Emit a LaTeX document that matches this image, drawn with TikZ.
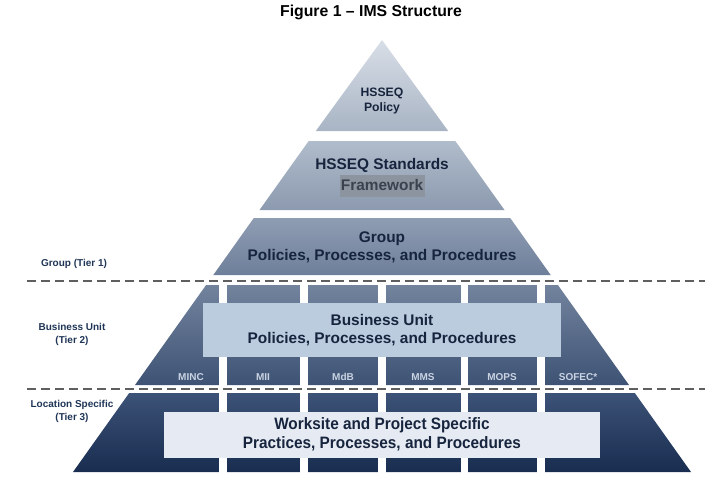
\documentclass[tikz,border=0pt]{standalone}
\usepackage{fontspec}
\setmainfont{Liberation Sans}
\definecolor{navy}{HTML}{17243D}
\definecolor{lbl}{HTML}{1F3556}
\definecolor{dashc}{HTML}{5F5F5F}
\definecolor{colc}{HTML}{C9D3E2}
\definecolor{bubox}{HTML}{BBCCDF}
\definecolor{wsbox}{HTML}{E6EBF3}
\definecolor{fwbox}{HTML}{8C959F}
\definecolor{fwtext}{HTML}{39424E}
\tikzset{
  ptext/.style={font=\bfseries\fontsize{15.4}{18.5}\selectfont, text=navy, align=center, inner sep=0pt},
  sidelbl/.style={font=\bfseries\fontsize{10}{13}\selectfont, text=lbl, align=center, inner sep=0pt},
  collbl/.style={font=\bfseries\fontsize{10}{12}\selectfont, text=colc, inner sep=0pt},
  tierline/.style={draw=dashc, line width=1.6pt, dash pattern=on 9pt off 5pt},
  gapbar/.style={fill=white, draw=none},
}
\begin{document}
\begin{tikzpicture}[x=1pt, y=-1pt]
\useasboundingbox (0,0) rectangle (720,480);
% title
\node[font=\bfseries\fontsize{15.8}{18}\selectfont, inner sep=0pt] (title) at (371,12) {Figure 1 – IMS Structure};
% sections
\shade[top color={rgb,255:red,216;green,222;blue,231}, bottom color={rgb,255:red,168;green,180;blue,196}]
  (382,40) -- (448.2,131) -- (315.8,131) -- cycle;
\shade[top color={rgb,255:red,176;green,188;blue,203}, bottom color={rgb,255:red,140;green,154;blue,175}]
  (308.7,141) -- (455.3,141) -- (504.5,210) -- (259.5,210) -- cycle;
\shade[top color={rgb,255:red,143;green,157;blue,179}, bottom color={rgb,255:red,110;green,127;blue,154}]
  (253.8,218) -- (510.2,218) -- (550.7,275) -- (213.3,275) -- cycle;
\shade[top color={rgb,255:red,114;green,131;blue,157}, bottom color={rgb,255:red,62;green,83;blue,117}]
  (206.1,285) -- (557.9,285) -- (629,385) -- (135,385) -- cycle;
\shade[top color={rgb,255:red,60;green,82;blue,118}, bottom color={rgb,255:red,24;green,45;blue,80}]
  (129.2,393) -- (634.8,393) -- (691,472) -- (73,472) -- cycle;
% column gaps
\foreach \a/\b in {219/227, 300/308, 378/386, 461/468, 537/545} {
  \fill[gapbar] (\a,284) rectangle (\b,386);
  \fill[gapbar] (\a,392) rectangle (\b,473);
}
% boxes
\fill[bubox] (203,303) rectangle (561,357);
\fill[wsbox] (164,412) rectangle (600,458);
\fill[fwbox] (340,175) rectangle (425,197);
% texts
\node[ptext, font=\bfseries\fontsize{12.2}{15}\selectfont] (policy) at (382,101) {HSSEQ\\Policy};
\node[ptext] (std) at (382,165) {HSSEQ Standards};
\node[ptext, text=fwtext] (fw) at (382,185) {Framework};
\node[ptext] (group) at (382,247.5) {Group\\Policies, Processes, and Procedures};
\node[ptext] (bu) at (382,330) {Business Unit\\Policies, Processes, and Procedures};
\node[ptext, font=\bfseries\fontsize{16.5}{18.5}\selectfont] (ws) at (382,434.5) {\scalebox{0.93}[1]{Worksite and Project Specific}\\\scalebox{0.93}[1]{Practices, Processes, and Procedures}};
% column labels
\node[collbl] (minc) at (191,377) {MINC};
\node[collbl] (mii) at (263,377) {MII};
\node[collbl] (mdb) at (343,377) {MdB};
\node[collbl] (mms) at (423,377) {MMS};
\node[collbl] (mops) at (502,377) {MOPS};
\node[collbl] (sofec) at (578,377) {SOFEC*};
% side labels
\node[sidelbl] (t1) at (74,264) {Group (Tier 1)};
\node[sidelbl] (t2) at (72,334.5) {Business Unit\\(Tier 2)};
\node[sidelbl] (t3) at (72,411.5) {Location Specific\\(Tier 3)};
% tier lines
\coordinate (l1a) at (27,281); \coordinate (l1b) at (705,281);
\coordinate (l2a) at (27,389); \coordinate (l2b) at (705,389);
\draw[tierline] (l1a) -- (l1b);
\draw[tierline] (l2a) -- (l2b);
\end{tikzpicture}
\end{document}
